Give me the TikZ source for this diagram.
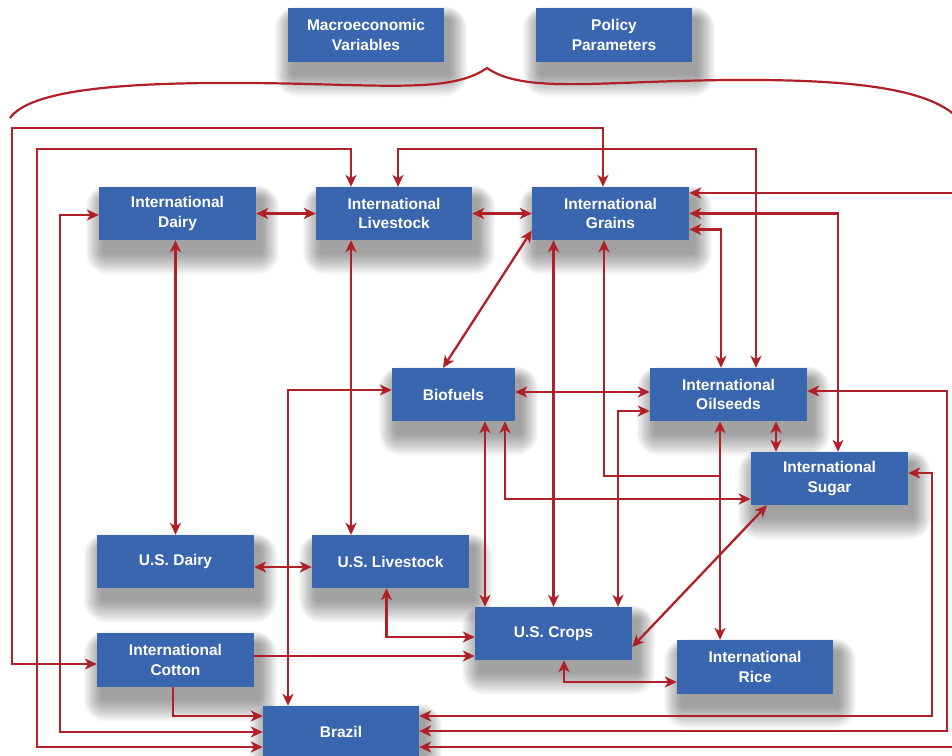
\documentclass[tikz,border=0pt]{standalone}
\usepackage{fontspec}
\setmainfont{Liberation Sans}
\usetikzlibrary{arrows.meta}
\definecolor{boxblue}{RGB}{58,102,175}
\definecolor{linered}{RGB}{176,32,40}
\pgfdeclarelayer{bottom}
\pgfdeclarelayer{shadow}
\pgfsetlayers{bottom,shadow,main}
\begin{document}
\begin{tikzpicture}[x=1pt,y=-1pt,
  box/.style={fill=boxblue, text=white, font=\bfseries\fontsize{15.5}{19.5}\selectfont,
    align=center, minimum width=157pt, minimum height=53pt, inner sep=0pt},
  conn/.style={draw=linered, line width=2.3pt},
  tip/.tip={Stealth[length=12pt,width=11pt,inset=3.5pt]},
  dbl/.style={conn, tip-tip},
  one/.style={conn, -tip},
  bracestyle/.style={draw=linered, line width=2.2pt}]
\useasboundingbox (0,0) rectangle (952,755);
\begin{pgfonlayer}{bottom}
\fill[white] (0,0) rectangle (952,755);
\end{pgfonlayer}
\clip (0,0) rectangle (952,755);

% boxes
\node[box, minimum width=156pt, minimum height=54pt] (macro) at (366,35) {Macroeconomic\\Variables};
\node[box, minimum width=156pt, minimum height=54pt] (policy) at (614,35) {Policy\\Parameters};
\node[box] (idairy) at (177.5,213.5) {International\\Dairy};
\node[box, minimum width=156pt] (ilive) at (394,213.5) {International\\Livestock};
\node[box] (igrains) at (610.5,213.5) {International\\Grains};
\node[box, minimum width=123pt] (bio) at (453.5,394.5) {Biofuels};
\node[box] (ioil) at (728.5,394.5) {International\\Oilseeds};
\node[box] (isugar) at (829.5,478.5) {International\\Sugar};
\node[box] (usdairy) at (175.5,561.5) {U.S. Dairy};
\node[box] (uslive) at (390.5,561.5) {U.S. Livestock};
\node[box] (uscrops) at (553.5,633.5) {U.S. Crops};
\node[box, minimum height=54pt] (icotton) at (175.5,660) {International\\Cotton};
\node[box, minimum width=156pt, minimum height=54pt] (irice) at (755,667) {International\\Rice};
\node[box, minimum width=156pt, minimum height=52pt] (brazil) at (341,732) {Brazil};

% soft shadows
\begin{pgfonlayer}{shadow}
\foreach \n in {macro,policy,idairy,ilive,igrains,bio,ioil,isugar,usdairy,uslive,uscrops,icotton,irice,brazil}{
  \foreach \e in {1.5,3,...,22.5}{
    \fill[black, opacity=0.026, rounded corners=\e pt]
      ([xshift=5pt-0.8*\e pt, yshift=-12pt+0.6*\e pt]\n.north west) rectangle
      ([xshift=5pt+0.8*\e pt, yshift=-12pt-\e pt]\n.south east);
  }
}
\end{pgfonlayer}

% brace
\draw[bracestyle] (10,118) .. controls (30,90) and (120,82) .. (250,83)
  .. controls (380,84) and (450,94) .. (487,68)
  .. controls (524,94) and (600,81) .. (730,80)
  .. controls (860,79) and (930,90) .. (958,118);

% connectors
\draw[dbl] ([yshift=-4pt]icotton.west) -| (12,128) -| ([xshift=-7.5pt]igrains.north);
\draw[dbl] ([yshift=-15pt]brazil.west) -| (37,149) -| ([xshift=-43pt]ilive.north);
\draw[dbl] ([yshift=-1.5pt]idairy.west) -| (60,732) -- (brazil.west);
\draw[dbl] ([xshift=4pt]ilive.north) |- (756,149) -| ([xshift=27.5pt]ioil.north);
\draw[dbl] ([yshift=20.5pt]igrains.east) -- (964,193) -- (964,747) -- ([yshift=-15pt]brazil.east);
\draw[dbl] (igrains.east) -| ([xshift=8.5pt]isugar.north);
\draw[dbl] ([yshift=-16pt]igrains.east) -| ([xshift=-7.5pt]ioil.north);
\draw[dbl] (uscrops.north) -- (uscrops.north |- igrains.south);
\draw[dbl] ([xshift=-8.5pt]ioil.south) -- ([xshift=-35pt]irice.north);
\coordinate (join) at (720,476);
\draw[one] (join) -| ([xshift=-6.5pt]igrains.south);
\draw[dbl] ([xshift=-10.5pt]bio.north) -- ([yshift=-17pt]igrains.west);
\draw[dbl] (idairy.east) -- (ilive.west);
\draw[dbl] (ilive.east) -- (igrains.west);
\draw[dbl] (idairy.south -| usdairy.north) -- (usdairy.north);
\draw[dbl] ([xshift=-43pt]ilive.south) -- ([xshift=-39.5pt]uslive.north);
\draw[dbl] ([yshift=4.5pt]bio.west) -| ([xshift=-53pt]brazil.north);
\draw[dbl] ([yshift=2.5pt]bio.east) -- ([yshift=2.5pt]ioil.west);
\draw[dbl] ([yshift=-16.5pt]ioil.west) -| ([xshift=64.5pt]uscrops.north);
\draw[dbl] ([xshift=31.5pt]bio.south) -- ([xshift=-68.5pt]uscrops.north);
\draw[dbl] ([xshift=51.5pt]bio.south) |- ([yshift=-20.5pt]isugar.west);
\draw[dbl] ([xshift=47.5pt]ioil.south) -- ([xshift=-53.5pt]isugar.north);
\draw[dbl] ([xshift=-62.5pt]isugar.south) -- ([yshift=-13.5pt]uscrops.east);
\draw[dbl] ([yshift=3.5pt]ioil.east) -| (947,731) -- ([yshift=1pt]brazil.east);
\draw[dbl] ([yshift=5.5pt]isugar.east) -| (932,716) -- ([yshift=16pt]brazil.east);
\draw[dbl] ([yshift=-5.5pt]usdairy.east) -- ([yshift=-5.5pt]uslive.west);
\draw[dbl] ([xshift=-4pt]uslive.south) |- ([yshift=-3.5pt]uscrops.west);
\draw[one] ([yshift=4pt]icotton.east) -- ([yshift=-22.5pt]uscrops.west);
\draw[one] ([xshift=-2.5pt]icotton.south) |- ([yshift=16pt]brazil.west);
\draw[dbl] ([xshift=10.5pt]uscrops.south) |- ([yshift=-15pt]irice.west);
\end{tikzpicture}
\end{document}
